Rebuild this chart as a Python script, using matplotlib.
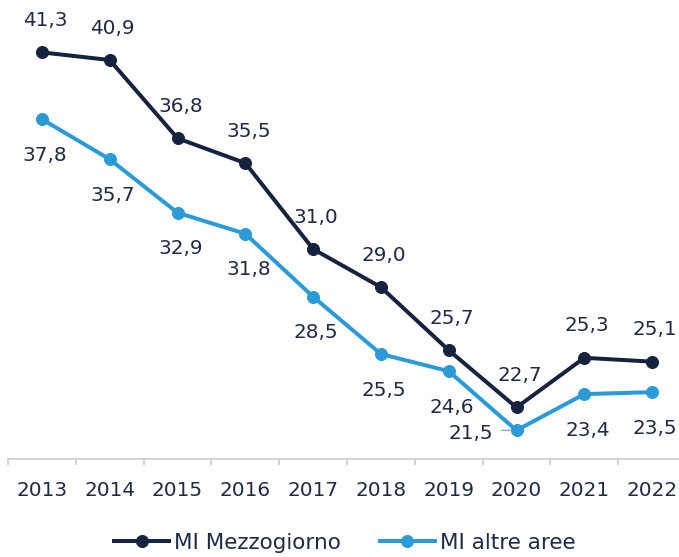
import matplotlib
matplotlib.use("Agg")
import matplotlib.pyplot as plt
from matplotlib.lines import Line2D

years = ["2013", "2014", "2015", "2016", "2017", "2018", "2019", "2020", "2021", "2022"]
mezzogiorno = [41.3, 40.9, 36.8, 35.5, 31.0, 29.0, 25.7, 22.7, 25.3, 25.1]
altre_aree = [37.8, 35.7, 32.9, 31.8, 28.5, 25.5, 24.6, 21.5, 23.4, 23.5]
series_names = ["MI Mezzogiorno", "MI altre aree"]

DARK = "#16233f"
LIGHT = "#2b9bd7"
TEXT = "#1f2a44"

plt.rcParams["font.family"] = ["DejaVu Sans"]

DPI = 72
FS = 20
LFS = 21.5
fig = plt.figure(figsize=(679 / DPI, 557 / DPI), dpi=DPI)
ax = fig.add_axes([8 / 679, 98 / 557, 678 / 679, 24 * 19.09 / 557])

x = list(range(len(years)))
ax.plot(x, mezzogiorno, color=DARK, lw=4, marker="o", ms=12, clip_on=False, zorder=3)
ax.plot(x, altre_aree, color=LIGHT, lw=4, marker="o", ms=12, clip_on=False, zorder=3)

ax.set_xlim(-0.5, len(years) - 0.5)
ax.set_ylim(20, 44)

def fmt(v):
    return f"{v:.1f}".replace(".", ",")

# label offsets in pixels (dx, dy)
dark_off = [(3, 32)] * len(years)
light_off = list([(3, -36)] * len(years))
light_off[7] = (-46, -3)

for i, v in enumerate(mezzogiorno):
    dx, dy = dark_off[i]
    ax.annotate(fmt(v), (i, v), xytext=(dx, dy), textcoords="offset points",
                ha="center", va="center", fontsize=FS, color=TEXT, annotation_clip=False)
for i, v in enumerate(altre_aree):
    dx, dy = light_off[i]
    ax.annotate(fmt(v), (i, v), xytext=(dx, dy), textcoords="offset points",
                ha="center", va="center", fontsize=FS, color=TEXT, annotation_clip=False)

# leader line for 2020 light label
ax.annotate("", (7, altre_aree[7]), xytext=(-15, 0), textcoords="offset points",
            arrowprops=dict(arrowstyle="-", color="#8fa8dc", lw=1.5, shrinkA=0, shrinkB=5))

for s in ["top", "right", "left"]:
    ax.spines[s].set_visible(False)
ax.spines["bottom"].set_color("#c8c8c8")
ax.spines["bottom"].set_linewidth(1.5)
ax.set_yticks([])
ax.set_xticks(x)
ax.set_xticklabels(years, fontsize=FS, color=TEXT)
ax.tick_params(axis="x", which="major", length=0, pad=22)
ax.set_xticks([i - 0.5 for i in range(len(years) + 1)], minor=True)
ax.tick_params(axis="x", which="minor", length=6, width=1.5, color="#c8c8c8", direction="out")

handles = [Line2D([], [], color=DARK, lw=4, marker="o", ms=12),
           Line2D([], [], color=LIGHT, lw=4, marker="o", ms=12)]
leg = fig.legend(handles, series_names, loc="center", bbox_to_anchor=(345 / 679, 14 / 557),
                 ncol=2, frameon=False, fontsize=LFS, handlelength=2.56, handletextpad=0.23,
                 columnspacing=1.8)
for t in leg.get_texts():
    t.set_color(TEXT)

fig.savefig("out.png", dpi=DPI)
